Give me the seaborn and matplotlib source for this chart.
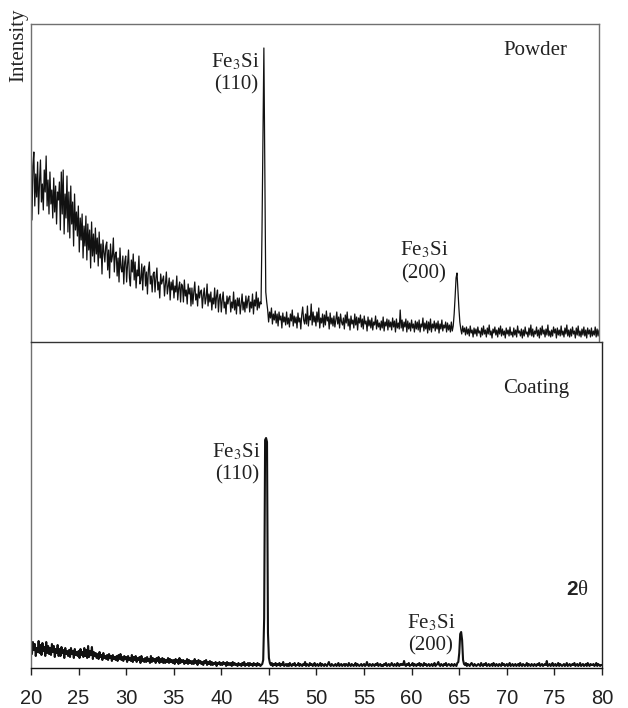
import numpy as np
import pandas as pd
import matplotlib
matplotlib.use("Agg")
import matplotlib.pyplot as plt
import seaborn as sns

# XRD scan grid (degrees 2-theta)
SCAN_START = 20.0
SCAN_STEP = 0.1

# Powder pattern, counts (a.u.), one row per degree of 2-theta
powder_counts = [
    150, 122, 176, 190, 136, 168, 145, 180, 128, 160,   # 20
    182, 140, 158, 132, 172, 150, 186, 136, 162, 128,   # 21
    170, 138, 152, 124, 164, 130, 156, 118, 150, 142,   # 22
    160, 112, 170, 128, 172, 108, 148, 124, 166, 110,   # 23
    150, 104, 156, 118, 140, 96, 148, 112, 130, 106,    # 24
    136, 90, 124, 102, 128, 84, 116, 96, 126, 82,       # 25
    118, 92, 112, 74, 120, 86, 108, 80, 114, 88,        # 26
    104, 76, 110, 84, 98, 68, 102, 90, 80, 96,          # 27
    100, 72, 92, 64, 98, 80, 86, 104, 70, 88,           # 28
    90, 66, 84, 60, 94, 74, 70, 86, 58, 80,             # 29
    86, 60, 78, 92, 64, 56, 82, 70, 88, 62,             # 30
    80, 54, 72, 66, 86, 58, 62, 78, 52, 74,             # 31
    76, 56, 70, 48, 72, 80, 58, 66, 50, 68,             # 32
    70, 50, 64, 74, 52, 60, 44, 68, 58, 62,             # 33
    66, 46, 58, 70, 48, 56, 64, 42, 60, 52,             # 34
    62, 44, 56, 50, 66, 42, 54, 60, 40, 58,             # 35
    56, 40, 62, 46, 52, 38, 58, 48, 54, 36,             # 36
    54, 38, 50, 60, 42, 48, 36, 56, 44, 50,             # 37
    52, 34, 46, 54, 38, 44, 58, 36, 48, 40,             # 38
    50, 32, 44, 38, 54, 34, 46, 52, 30, 44,             # 39
    48, 30, 42, 50, 34, 40, 28, 46, 38, 44,             # 40
    46, 30, 40, 34, 50, 32, 42, 28, 44, 36,             # 41
    44, 28, 38, 48, 32, 40, 30, 46, 34, 42,             # 42
    46, 30, 40, 34, 48, 28, 42, 36, 50, 32,             # 43
    44, 34, 40, 38, 110, 200, 294, 170, 50, 40,         # 44
    32, 20, 30, 24, 34, 18, 28, 22, 31, 19,             # 45
    28, 16, 30, 22, 26, 14, 29, 20, 25, 17,             # 46
    30, 18, 24, 15, 28, 21, 32, 16, 26, 19,             # 47
    25, 14, 29, 20, 24, 13, 27, 35, 22, 18,             # 48
    28, 18, 36, 16, 26, 22, 38, 17, 30, 20,             # 49
    26, 16, 30, 20, 34, 14, 24, 19, 28, 15,             # 50
    27, 17, 31, 21, 25, 13, 29, 18, 24, 16,             # 51
    26, 15, 22, 30, 18, 25, 14, 28, 20, 17,             # 52
    24, 13, 27, 19, 30, 16, 23, 12, 26, 18,             # 53
    22, 14, 28, 17, 25, 12, 24, 19, 27, 15,             # 54
    23, 13, 26, 18, 21, 11, 25, 16, 22, 14,             # 55
    24, 12, 20, 17, 26, 13, 22, 15, 19, 12,             # 56
    21, 14, 25, 11, 20, 16, 23, 12, 22, 15,             # 57
    20, 12, 24, 15, 21, 10, 23, 14, 19, 13,             # 58
    32, 14, 22, 11, 20, 15, 23, 10, 21, 13,             # 59
    19, 11, 22, 14, 18, 10, 21, 13, 20, 12,             # 60
    22, 10, 18, 15, 24, 11, 19, 13, 21, 9,              # 61
    20, 12, 23, 10, 18, 14, 21, 11, 19, 13,             # 62
    21, 9, 18, 13, 22, 11, 17, 14, 20, 10,              # 63
    19, 12, 17, 10, 20, 11, 16, 28, 45, 64,             # 64
    69, 52, 34, 20, 13, 8, 16, 10, 14, 7,               # 65
    15, 8, 13, 6, 16, 9, 12, 5, 14, 8,                  # 66
    13, 6, 15, 9, 11, 5, 14, 7, 16, 8,                  # 67
    12, 5, 14, 8, 17, 7, 11, 4, 13, 9,                  # 68
    15, 7, 12, 5, 14, 8, 16, 6, 13, 7,                  # 69
    11, 4, 14, 8, 12, 6, 15, 7, 10, 5,                  # 70
    14, 7, 12, 5, 16, 9, 11, 6, 13, 4,                  # 71
    12, 6, 15, 8, 10, 5, 14, 7, 17, 6,                  # 72
    13, 5, 11, 8, 15, 6, 12, 4, 14, 7,                  # 73
    16, 8, 12, 5, 13, 7, 17, 6, 11, 5,                  # 74
    12, 6, 15, 9, 13, 4, 14, 7, 12, 6,                  # 75
    16, 7, 11, 5, 14, 8, 17, 6, 12, 5,                  # 76
    13, 6, 15, 8, 11, 4, 14, 7, 16, 6,                  # 77
    11, 5, 13, 7, 15, 6, 12, 4, 14, 8,                  # 78
    12, 5, 14, 6, 11, 7, 15, 5, 13, 6,                  # 79
    12,                                                 # 80
]

# Coating pattern, counts (a.u.), one row per degree of 2-theta
coating_counts = [
    22, 14, 26, 18, 24, 12, 20, 16, 27, 15,     # 20
    23, 13, 25, 17, 21, 12, 26, 15, 22, 14,     # 21
    20, 13, 24, 16, 22, 11, 19, 15, 23, 12,     # 22
    19, 12, 21, 15, 18, 10, 20, 14, 17, 12,     # 23
    18, 11, 20, 14, 17, 10, 19, 13, 16, 12,     # 24
    17, 10, 19, 13, 16, 11, 20, 12, 18, 10,     # 25
    22, 11, 17, 13, 21, 9, 16, 12, 15, 10,      # 26
    14, 9, 16, 11, 13, 8, 15, 10, 12, 9,        # 27
    13, 8, 14, 10, 12, 7, 13, 9, 11, 8,         # 28
    12, 7, 13, 9, 14, 8, 11, 7, 12, 9,          # 29
    11, 6, 12, 8, 10, 7, 13, 6, 11, 8,          # 30
    12, 6, 10, 8, 11, 5, 12, 7, 9, 6,           # 31
    10, 6, 11, 7, 9, 5, 12, 6, 10, 7,           # 32
    9, 5, 10, 7, 11, 5, 9, 6, 10, 5,            # 33
    9, 5, 8, 6, 10, 5, 9, 6, 8, 5,              # 34
    8, 4, 9, 6, 8, 4, 10, 5, 8, 6,              # 35
    8, 4, 7, 5, 9, 4, 8, 5, 7, 4,               # 36
    7, 4, 9, 5, 7, 3, 8, 5, 7, 4,               # 37
    6, 3, 7, 5, 8, 3, 6, 4, 7, 3,               # 38
    6, 3, 5, 4, 6, 2, 5, 4, 6, 3,               # 39
    5, 3, 6, 4, 5, 2, 6, 3, 5, 3,               # 40
    5, 2, 6, 3, 5, 3, 4, 2, 5, 3,               # 41
    4, 2, 5, 3, 6, 2, 4, 3, 5, 2,               # 42
    5, 3, 4, 2, 5, 3, 4, 2, 5, 3,               # 43
    4, 2, 3, 4, 8, 50, 228, 230, 226, 35,       # 44
    10, 5, 3, 5, 2, 4, 3, 5, 2, 4,              # 45
    3, 5, 2, 4, 3, 6, 2, 3, 4, 2,               # 46
    4, 2, 5, 3, 2, 4, 3, 5, 2, 3,               # 47
    3, 5, 2, 4, 3, 2, 4, 3, 6, 2,               # 48
    4, 3, 2, 5, 3, 4, 2, 3, 5, 2,               # 49
    3, 4, 2, 3, 5, 2, 4, 3, 2, 4,               # 50
    3, 2, 4, 6, 3, 2, 4, 3, 2, 3,               # 51
    4, 2, 3, 5, 2, 3, 4, 2, 3, 4,               # 52
    2, 4, 3, 2, 5, 3, 2, 4, 3, 2,               # 53
    3, 5, 2, 4, 3, 2, 3, 4, 2, 3,               # 54
    4, 2, 3, 6, 3, 2, 4, 3, 2, 4,               # 55
    3, 2, 4, 3, 5, 2, 3, 4, 2, 3,               # 56
    2, 4, 3, 5, 2, 3, 4, 2, 3, 5,               # 57
    3, 2, 4, 3, 2, 5, 3, 2, 4, 3,               # 58
    4, 3, 7, 3, 2, 4, 3, 5, 2, 3,               # 59
    3, 5, 2, 4, 3, 2, 4, 3, 5, 2,               # 60
    4, 3, 2, 5, 3, 4, 2, 3, 4, 2,               # 61
    3, 4, 2, 3, 5, 2, 3, 4, 6, 3,               # 62
    2, 4, 3, 2, 4, 3, 5, 2, 3, 4,               # 63
    3, 2, 4, 3, 2, 4, 3, 2, 5, 6,               # 64
    15, 34, 36, 28, 8, 4, 3, 5, 2, 4,           # 65
    3, 2, 4, 5, 3, 2, 4, 3, 2, 3,               # 66
    4, 3, 2, 5, 3, 2, 4, 3, 5, 2,               # 67
    3, 4, 2, 3, 4, 2, 5, 3, 2, 4,               # 68
    3, 2, 4, 3, 2, 5, 3, 4, 2, 3,               # 69
    4, 2, 3, 5, 2, 3, 4, 2, 3, 4,               # 70
    2, 3, 4, 2, 5, 3, 2, 4, 3, 2,               # 71
    3, 5, 2, 4, 3, 2, 4, 3, 2, 4,               # 72
    3, 2, 4, 3, 5, 2, 3, 4, 2, 3,               # 73
    4, 3, 7, 2, 3, 4, 2, 3, 5, 2,               # 74
    3, 4, 2, 3, 5, 2, 4, 3, 2, 3,               # 75
    4, 2, 3, 5, 2, 3, 4, 2, 3, 4,               # 76
    3, 5, 2, 3, 4, 2, 3, 5, 2, 3,               # 77
    4, 2, 3, 4, 2, 5, 3, 2, 4, 3,               # 78
    3, 4, 2, 3, 5, 2, 4, 3, 2, 3,               # 79
    3,                                          # 80
]

x_ticks = [20, 25, 30, 35, 40, 45, 50, 55, 60, 65, 70, 75, 80]

powder = pd.DataFrame({
    "two_theta": SCAN_START + SCAN_STEP * np.arange(len(powder_counts)),
    "counts": powder_counts,
})
coating = pd.DataFrame({
    "two_theta": SCAN_START + SCAN_STEP * np.arange(len(coating_counts)),
    "counts": coating_counts,
})

sns.set_style("white")
plt.rcParams["font.family"] = ["Liberation Serif", "DejaVu Serif"]
plt.rcParams["mathtext.fontset"] = "stix"

fig = plt.figure(figsize=(6.28, 7.08), dpi=100)
W, H = 628.0, 708.0

ax_top = fig.add_axes([31 / W, 366 / H, 568 / W, 318 / H])
ax_bot = fig.add_axes([31 / W, 40 / H, 571 / W, 326 / H])

sns.lineplot(data=powder, x="two_theta", y="counts", ax=ax_top,
             color="#111111", linewidth=0.9, errorbar=None)
sns.lineplot(data=coating, x="two_theta", y="counts", ax=ax_bot,
             color="#111111", linewidth=1.5, errorbar=None)

ax_top.set_xlim(20, 80)
ax_top.set_ylim(0, 318)
ax_bot.set_xlim(20, 80)
ax_bot.set_ylim(0, 326)

for ax in (ax_top, ax_bot):
    ax.set_xlabel("")
    ax.set_ylabel("")
    ax.set_yticks([])

ax_top.set_xticks([])
for side in ("left", "top", "right"):
    ax_top.spines[side].set_color("#707070")
    ax_top.spines[side].set_linewidth(1.0)
ax_top.spines["bottom"].set_visible(False)

ax_bot.spines["left"].set_color("#707070")
ax_bot.spines["top"].set_color("#333333")
ax_bot.spines["right"].set_color("#222222")
ax_bot.spines["bottom"].set_color("#111111")
for side in ("left", "top", "right", "bottom"):
    ax_bot.spines[side].set_linewidth(1.0)

ax_bot.set_xticks(x_ticks)
ax_bot.set_xticklabels([str(t) for t in x_ticks],
                       fontfamily="Liberation Sans", fontsize=14.5,
                       color="#222222")
ax_bot.tick_params(axis="x", direction="out", length=5, width=1.0,
                   color="#222222", pad=10, bottom=True)


def fy(y_px):
    return 1 - y_px / H


def fx(x_px):
    return x_px / W


serif = dict(fontfamily="Liberation Serif", fontsize=15, color="#222222")

fig.text(fx(19), fy(45), "Intensity", rotation=90, ha="center",
         va="center", **serif)
fig.text(fx(535), fy(55), "Powder", ha="center", va="baseline", **serif)
fig.text(fx(536), fy(393), "Coating", ha="center", va="baseline", **serif)

# peak labels
fig.text(fx(259), fy(67), "Fe$_3$Si", ha="right", va="baseline", **serif)
fig.text(fx(258), fy(89), "(110)", ha="right", va="baseline", **serif)
fig.text(fx(424), fy(255), "Fe$_3$Si", ha="center", va="baseline", **serif)
fig.text(fx(424), fy(278), "(200)", ha="center", va="baseline", **serif)
fig.text(fx(260), fy(457), "Fe$_3$Si", ha="right", va="baseline", **serif)
fig.text(fx(259), fy(479), "(110)", ha="right", va="baseline", **serif)
fig.text(fx(431), fy(628), "Fe$_3$Si", ha="center", va="baseline", **serif)
fig.text(fx(431), fy(650), "(200)", ha="center", va="baseline", **serif)

# axis label 2-theta
fig.text(fx(578), fy(595), "2", ha="right", va="baseline",
         fontfamily="Liberation Sans", fontweight="bold", fontsize=15,
         color="#222222")
fig.text(fx(578), fy(595), "θ", ha="left", va="baseline",
         fontfamily="Liberation Serif", fontsize=15, color="#222222")

fig.savefig("out.png", dpi=100)
